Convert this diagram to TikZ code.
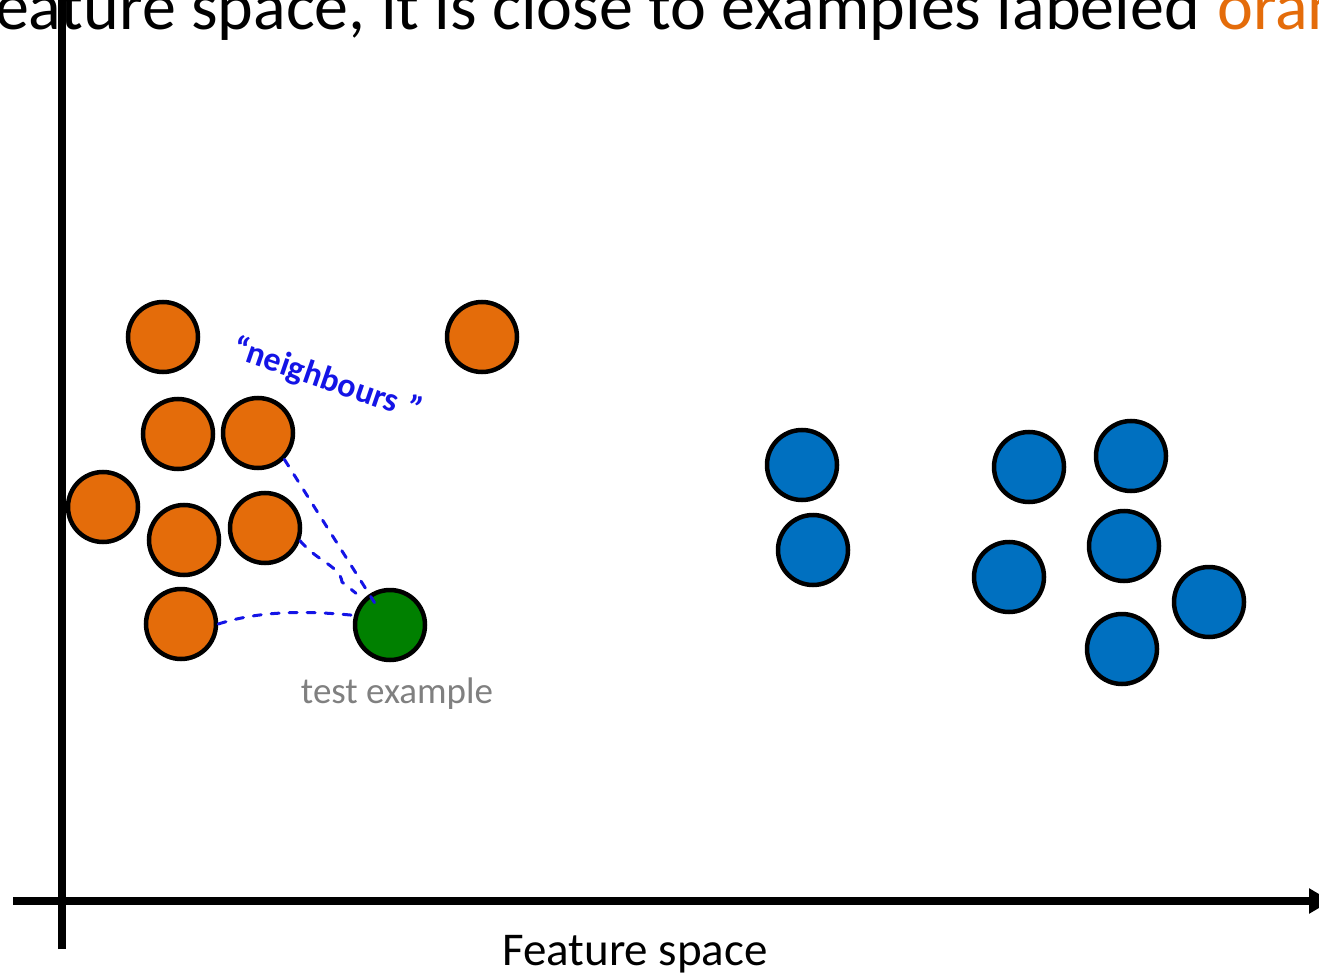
\documentclass[tikz,border=0pt]{standalone}
\usepackage{fontspec}
\setmainfont{Carlito}
\usepackage{tikz}
\usetikzlibrary{arrows.meta,positioning,calc}
\usepackage{xcolor}
\definecolor{ptorange}{HTML}{E46C0A}
\definecolor{ptblue}  {HTML}{0070C0}
\definecolor{ptgreen} {HTML}{008000}
\definecolor{inkblue} {HTML}{1414E6}
\definecolor{labelgray}{HTML}{808080}

\begin{document}
\begin{tikzpicture}[
      x=1pt, y=-1pt,
      pt/.style={
        circle, draw=black, line width=4.5pt,
        minimum size=70pt, inner sep=0pt
      },
      orangept/.style={pt, fill=ptorange},
      bluept/.style={pt, fill=ptblue},
      testpt/.style={pt, fill=ptgreen},
      nbrline/.style={inkblue, line width=3pt, line cap=round, dash pattern=on 8pt off 10pt},
      axisline/.style={line width=8pt}
    ]
      \useasboundingbox (0,0) rectangle (1319,973);

      % slide title, cut by the frame
      \node[anchor=base east, inner sep=0pt, font=\fontsize{68}{80}\selectfont] (title) at (1200,30)
        {eature space, it is close to examples labeled};
      \node[anchor=base west, inner sep=0pt, text=ptorange, font=\fontsize{68}{80}\selectfont] (titleorange) at (1217,30)
        {orange};

      % orange class
      \foreach \name/\px/\py in {o1/163/337, o2/482/337, o3/178/434, o4/258/433,
                                 o5/103/507, o6/184/540, o7/265/528, o8/181/624}
        \node[orangept] (\name) at (\px,\py) {};

      % blue class
      \foreach \name/\px/\py in {b1/802/465, b2/813/550, b3/1029/467, b4/1131/456,
                                 b5/1124/546, b6/1009/577, b7/1209/602, b8/1122/649}
        \node[bluept] (\name) at (\px,\py) {};

      % the query point
      \node[testpt] (test) at (390,625) {};
      \node[text=labelgray, font=\fontsize{37}{44}\selectfont, anchor=base] (testlabel) at (397,703) {test example};

      % hand-drawn links to the nearest points
      \draw[nbrline, shorten >=-10pt] (o4.-45) -- (test.124);
      \draw[nbrline] (o7.-20) .. controls (318,562) and (340,566) .. (342,582) -- ($(test.center)!1.25!(test.137)$);
      \draw[nbrline] (o8.east) .. controls (262,610) and (310,611) .. (test.165);
      \node[text=inkblue, rotate=-19, inner sep=0pt, font=\bfseries\fontsize{34}{40}\selectfont] (nbrnote) at (327,380) {``neighbours\;''};

      % axes
      \coordinate (xstart) at (13,901);
      \coordinate (xend)   at (1331,901);
      \coordinate (ybot)   at (62,949);
      \coordinate (ytop)   at (62,-20);
      \draw[axisline] (ybot) -- (ytop);
      \draw[axisline, -{Triangle[width=24pt,length=22pt]}] (xstart) -- (xend);
      \node[font=\fontsize{47}{56}\selectfont, anchor=base] (xlabel) at (635,965) {Feature space};
\end{tikzpicture}
\end{document}
